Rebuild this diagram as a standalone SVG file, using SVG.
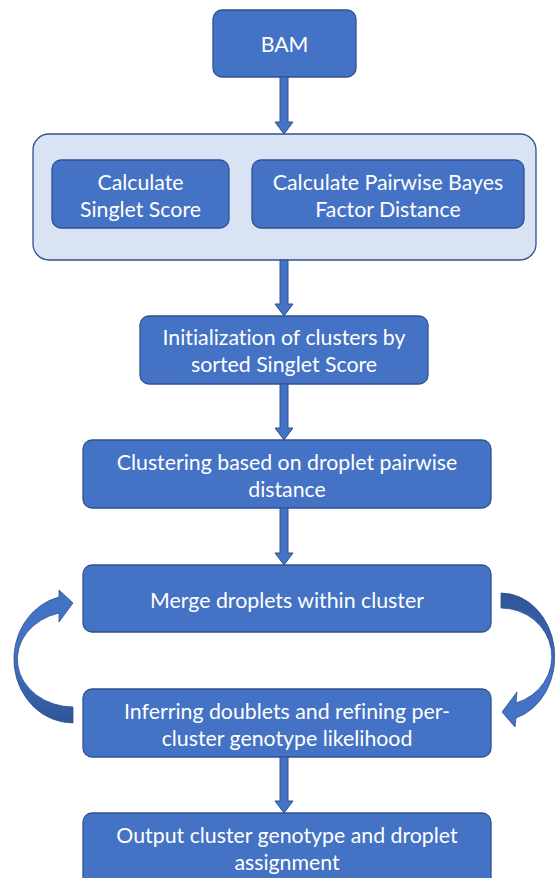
<svg xmlns="http://www.w3.org/2000/svg" width="555" height="878" viewBox="0 0 555 878">
<defs>
<style>
.box{fill:#4472c4;stroke:#2f528f;stroke-width:1.3}
.cont{fill:#dae3f3;stroke:#2f528f;stroke-width:1.3}
.arr{fill:#4472c4;stroke:#2f528f;stroke-width:1}
.t{font-family:Lato,"Open Sans",sans-serif;font-size:21.3px;fill:#ffffff;text-anchor:middle;font-variant-ligatures:none}
</style>
<linearGradient id="gl" x1="0" y1="0" x2="0" y2="1">
<stop offset="0" stop-color="#4472c4"/>
<stop offset="0.45" stop-color="#4472c4"/>
<stop offset="0.75" stop-color="#3a63ad"/>
<stop offset="1" stop-color="#2f5597"/>
</linearGradient>
<linearGradient id="gr" x1="0" y1="0" x2="0" y2="1">
<stop offset="0" stop-color="#2f5597"/>
<stop offset="0.35" stop-color="#3a63ad"/>
<stop offset="0.6" stop-color="#4472c4"/>
<stop offset="1" stop-color="#4472c4"/>
</linearGradient>
</defs>
<rect width="555" height="878" fill="#ffffff"/>
<g id="container">
<rect class="cont" x="33" y="134" width="503" height="126" rx="16"/>
</g>
<g id="bam">
<rect class="box" x="213" y="10" width="143" height="67" rx="9"/>
<text class="t" x="284.5" y="51.5">BAM</text>
</g>
<g id="singlet">
<rect class="box" x="52" y="160" width="177" height="68" rx="9"/>
<text class="t" x="140.5" y="189.5">Calculate</text>
<text class="t" x="140.5" y="216.5">Singlet Score</text>
</g>
<g id="bayes">
<rect class="box" x="252" y="160" width="272" height="68" rx="9"/>
<text class="t" x="388" y="189.5">Calculate Pairwise Bayes</text>
<text class="t" x="388" y="216.5">Factor Distance</text>
</g>
<g id="init">
<rect class="box" x="140" y="316" width="288" height="68" rx="9"/>
<text class="t" x="284" y="344.5">Initialization of clusters by</text>
<text class="t" x="284" y="371.5">sorted Singlet Score</text>
</g>
<g id="clustering">
<rect class="box" x="83" y="440" width="408" height="68" rx="9"/>
<text class="t" x="287" y="469.5">Clustering based on droplet pairwise</text>
<text class="t" x="287" y="496.5">distance</text>
</g>
<g id="merge">
<rect class="box" x="83" y="565" width="408" height="67" rx="9"/>
<text class="t" x="287" y="607.5">Merge droplets within cluster</text>
</g>
<g id="infer">
<rect class="box" x="83" y="689" width="408" height="68" rx="9"/>
<text class="t" x="287" y="718.5">Inferring doublets and refining per-</text>
<text class="t" x="287" y="745.5">cluster genotype likelihood</text>
</g>
<g id="output">
<rect class="box" x="83" y="813" width="408" height="75" rx="9"/>
<text class="t" x="287" y="842.5">Output cluster genotype and droplet</text>
<text class="t" x="287" y="869.5">assignment</text>
</g>
<g id="connectors">
<path class="arr" d="M280 77 H288 V122 H293 L284 134 L275 122 H280 Z"/>
<path class="arr" d="M280 260 H288 V304 H293 L284 316 L275 304 H280 Z"/>
<path class="arr" d="M280 384 H288 V428 H293 L284 440 L275 428 H280 Z"/>
<path class="arr" d="M280 508 H288 V553 H293 L284 565 L275 553 H280 Z"/>
<path class="arr" d="M280 757 H288 V801 H293 L284 813 L275 801 H280 Z"/>
<path fill="url(#gl)" stroke="#2f528f" stroke-width="0.8" d="M73 723 A59 63.9 0 0 1 59 597 L59 590 L73 603 L59 622 L59 613 A56 47.8 0 0 0 73 707 Z"/>
<path fill="url(#gr)" stroke="#2f528f" stroke-width="0.8" d="M501 593 A54 63.8 0 0 1 516 718 L515 727 L502 712 L517 692 L516 703 A51 48.6 0 0 0 501 608 Z"/>
</g>
</svg>
